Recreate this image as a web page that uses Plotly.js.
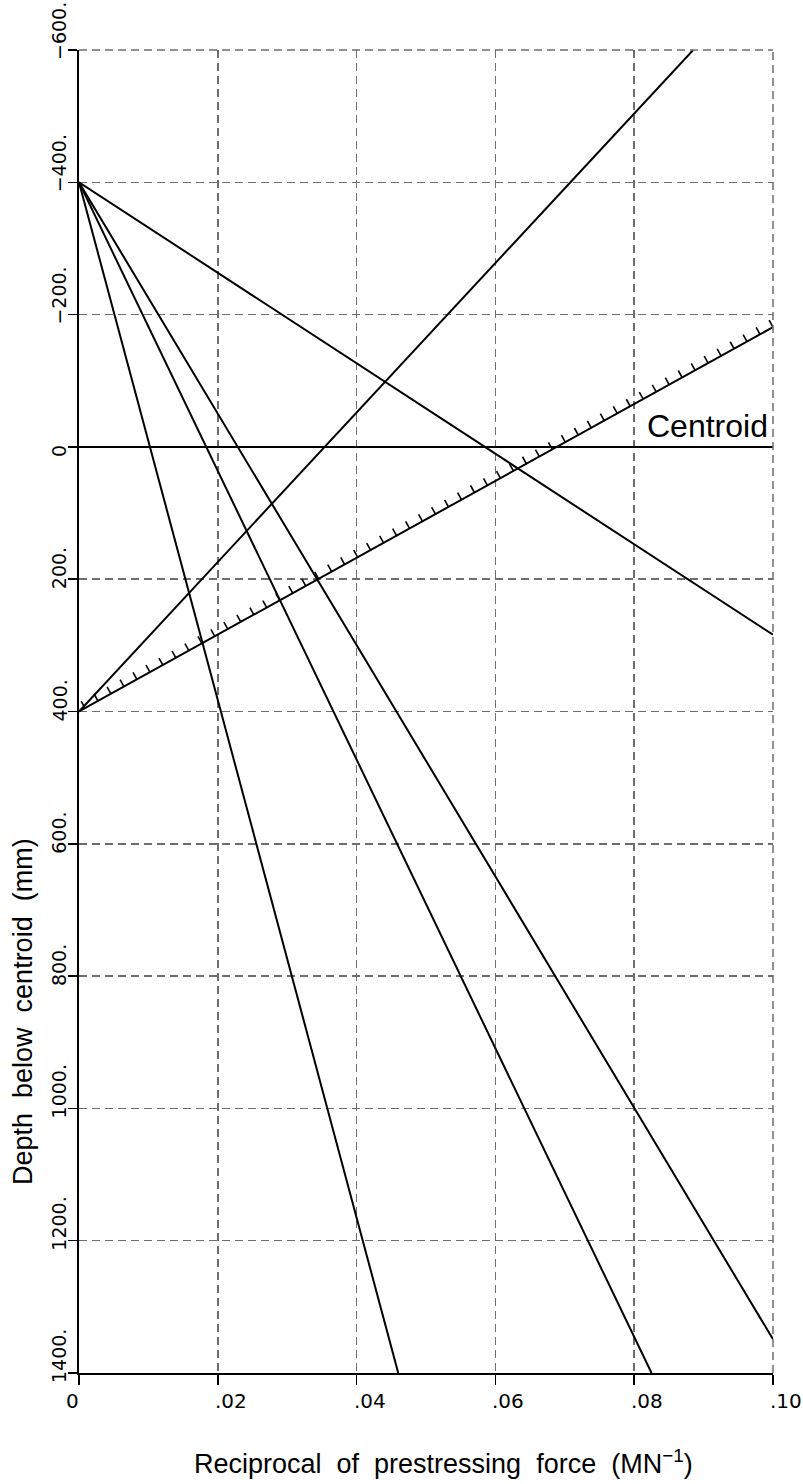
<!DOCTYPE html>
<html>
<head>
<meta charset="utf-8">
<script src="https://cdn.plot.ly/plotly-3.0.1.min.js"></script>
<style>
  html, body { margin: 0; padding: 0; background: #ffffff; }
  #chart { width: 803px; height: 1484px; }
</style>
</head>
<body>
<div id="chart"></div>
<script>
// ---- Data ----
// Lines through the top kern point (x = 1/P, y = depth below centroid, mm)
const lineA_x = [0, 0.1];    const lineA_y = [-400, 284];
const lineB_x = [0, 0.046];  const lineB_y = [-400, 1400];
const lineC_x = [0, 0.0825]; const lineC_y = [-400, 1400];
const lineD_x = [0, 0.1];    const lineD_y = [-400, 1349];
// Lines through the bottom kern point
const lineE_x = [0, 0.0885]; const lineE_y = [400, -600];
const lineF_x = [0, 0.1];    const lineF_y = [400, -181];   // hatched limit line
// Centroid
const centroid_x = [0, 0.1]; const centroid_y = [0, 0];

const xTickVals = [0, 0.02, 0.04, 0.06, 0.08, 0.10];
const xTickText = ['0', '.02', '.04', '.06', '.08', '.10'];
const yTickVals = [-600, -400, -200, 0, 200, 400, 600, 800, 1000, 1200, 1400];
const yTickText = ['\u2212600.', '\u2212400.', '\u2212200.', '0', '200.', '400.', '600.', '800.', '1000.', '1200.', '1400.'];

const xTitle = 'Reciprocal  of  prestressing  force  (MN<sup>\u22121</sup>)';
const yTitle = 'Depth  below  centroid  (mm)';
const centroidLabel = 'Centroid';

// ---- Layout geometry ----
const W = 803, H = 1484;
const M = {l: 79, r: 30, t: 50, b: 111};
const xRange = [0, 0.1];
const yRange = [1400, -600];
const plotW = W - M.l - M.r, plotH = H - M.t - M.b;
const pxPerX = plotW / (xRange[1] - xRange[0]);
const pxPerY = plotH / Math.abs(yRange[0] - yRange[1]);

const FONT = 'Liberation Sans, Arial, sans-serif';
const TICKFONT = 'DejaVu Sans, sans-serif';
const lineStyle = {color: '#000000', width: 2};

function seg(x, y) {
  return {x: x, y: y, type: 'scatter', mode: 'lines', line: lineStyle,
          hoverinfo: 'skip', showlegend: false};
}

// Hatch marks on the upper side of the limit line F (derived from lineF)
function hatchTrace(x, y, nTicks, startPx, lenPx) {
  const dxp = (x[1] - x[0]) * pxPerX;
  const dyp = (y[1] - y[0]) * pxPerY;     // screen y grows with data y (reversed axis)
  const L = Math.hypot(dxp, dyp);
  const ux = dxp / L, uy = dyp / L;
  let nx = uy, ny = -ux;
  if (ny > 0) { nx = -nx; ny = -ny; }
  const hx = [], hy = [];
  const startF = startPx / dxp;
  const step = (1 - startF) / (nTicks - 1);
  for (let k = 0; k < nTicks; k++) {
    const f = startF + k * step;
    const px = x[0] + f * (x[1] - x[0]);
    const py = y[0] + f * (y[1] - y[0]);
    hx.push(px, px + nx * lenPx / pxPerX, null);
    hy.push(py, py + ny * lenPx / pxPerY, null);
  }
  return {x: hx, y: hy, type: 'scatter', mode: 'lines',
          line: {color: '#000000', width: 1.6}, hoverinfo: 'skip', showlegend: false};
}

const data = [
  seg(centroid_x, centroid_y),
  seg(lineA_x, lineA_y),
  seg(lineB_x, lineB_y),
  seg(lineC_x, lineC_y),
  seg(lineD_x, lineD_y),
  seg(lineE_x, lineE_y),
  seg(lineF_x, lineF_y),
  hatchTrace(lineF_x, lineF_y, 54, 6, 8)
];

const annotations = [];
yTickVals.forEach((v, i) => {
  annotations.push({
    xref: 'paper', x: 0, xanchor: 'right', xshift: -7,
    yref: 'y', y: v, yanchor: 'bottom', yshift: -12,
    text: yTickText[i], textangle: -90, showarrow: false,
    font: {family: TICKFONT, size: 19, color: '#000000'}
  });
});
xTickVals.forEach((v, i) => {
  annotations.push({
    xref: 'x', x: v, xanchor: i === 0 ? 'right' : 'left', xshift: i === 0 ? 2 : -5,
    yref: 'paper', y: 0, yanchor: 'top', yshift: -14,
    text: xTickText[i], showarrow: false,
    font: {family: TICKFONT, size: 20, color: '#000000'}
  });
});
// axis titles
annotations.push({
  xref: 'paper', x: (443 - M.l) / plotW, xanchor: 'center',
  yref: 'paper', y: -(1462 - (H - M.b)) / plotH, yanchor: 'middle',
  text: xTitle, showarrow: false,
  font: {family: FONT, size: 27, color: '#000000'}
});
annotations.push({
  xref: 'paper', x: -(M.l - 23) / plotW, xanchor: 'center',
  yref: 'paper', y: 1 - (1012 - M.t) / plotH, yanchor: 'middle',
  text: yTitle, textangle: -90, showarrow: false,
  font: {family: FONT, size: 27, color: '#000000'}
});
// Centroid label
annotations.push({
  xref: 'x', x: 0.1, xanchor: 'right', xshift: -3,
  yref: 'y', y: 0, yanchor: 'bottom', yshift: 1,
  text: centroidLabel, showarrow: false,
  font: {family: FONT, size: 32, color: '#000000'}
});

const gridStyle = {showgrid: true, gridcolor: '#6e6e6e', gridwidth: 1.5, griddash: '8px,5px'};

const layout = {
  width: W, height: H,
  margin: M,
  paper_bgcolor: '#ffffff', plot_bgcolor: '#ffffff',
  showlegend: false,
  xaxis: Object.assign({
    range: xRange, tickvals: xTickVals, ticktext: xTickText, showticklabels: false,
    ticks: 'outside', ticklen: 10, tickwidth: 1.5, tickcolor: '#000000',
    showline: true, linecolor: '#000000', linewidth: 2, zeroline: false,
    fixedrange: true
  }, gridStyle),
  yaxis: Object.assign({
    range: yRange, tickvals: yTickVals, ticktext: yTickText, showticklabels: false,
    ticks: 'outside', ticklen: 9, tickwidth: 1.5, tickcolor: '#000000',
    showline: true, linecolor: '#000000', linewidth: 2, zeroline: false,
    fixedrange: true
  }, gridStyle),
  shapes: [
    {type: 'line', xref: 'paper', yref: 'paper', x0: 0, x1: 1, y0: 1, y1: 1,
     line: {color: '#6e6e6e', width: 1.5, dash: '8px,5px'}},
    {type: 'line', xref: 'paper', yref: 'paper', x0: 1, x1: 1, y0: 0, y1: 1,
     line: {color: '#6e6e6e', width: 1.5, dash: '8px,5px'}}
  ],
  annotations: annotations
};

function dropEmptyTexts() {
  document.querySelectorAll('text').forEach(function (t) {
    var empty = !t.textContent || !t.textContent.trim();
    var zero = false;
    try { var b = t.getBBox(); zero = (b.width === 0 || b.height === 0); } catch (e) {}
    if (empty || zero) t.remove();
  });
}

Plotly.newPlot('chart', data, layout, {staticPlot: true, displayModeBar: false}).then(function () {
  dropEmptyTexts();
  setTimeout(dropEmptyTexts, 50);
});
</script>
</body>
</html>
